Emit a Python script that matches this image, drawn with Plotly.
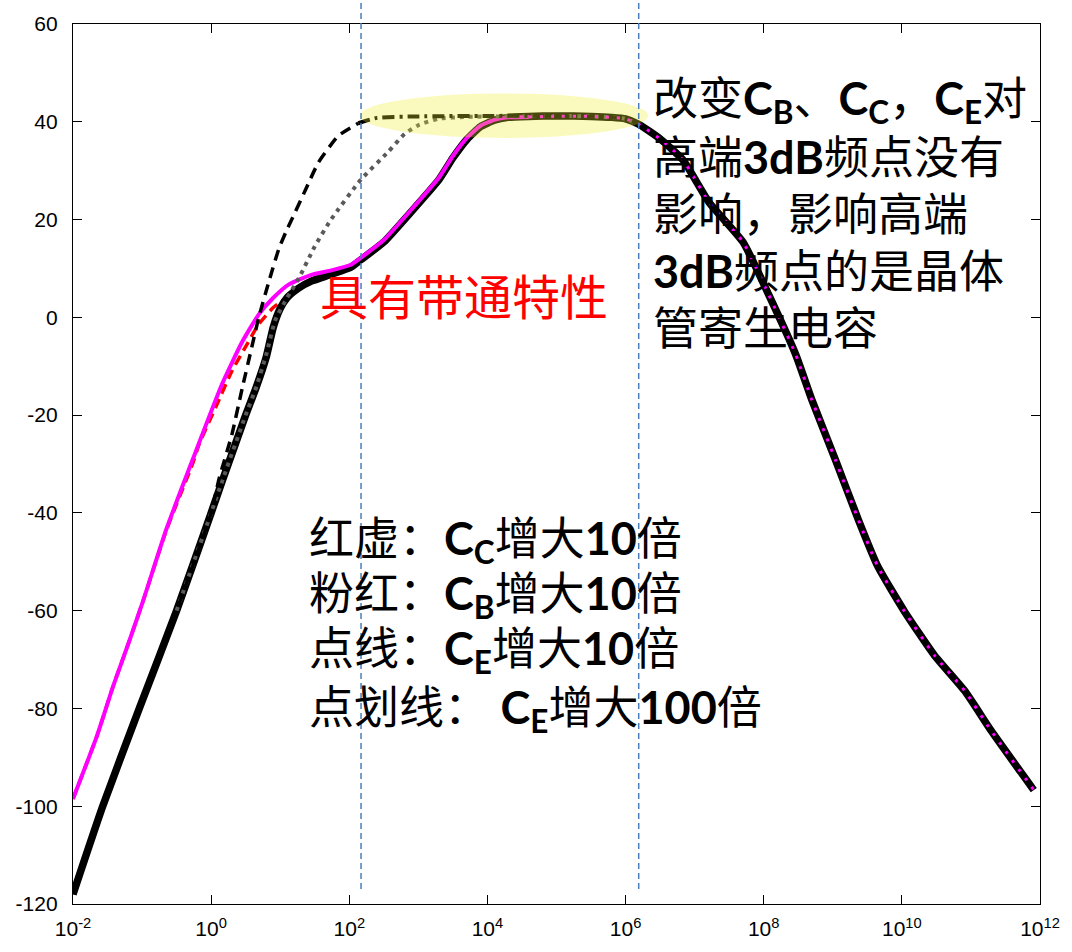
import numpy as np
import plotly.graph_objects as go

# ---- frequency responses (x given as log10 of frequency, y in dB) ----
# common high-frequency roll-off shared by every response
hf_exp = [6.0, 6.19, 6.5, 6.83, 7.21, 7.70, 8.07, 8.46, 8.70, 9.04, 9.37, 9.65,
          10.04, 10.47, 10.91, 11.29, 11.91]
hf_db = [40.6, 39.5, 36.5, 32.2, 23.5, 15.4, 4.7, -7.5, -17.0, -29.2, -41.4, -50.9,
         -60.2, -69.1, -76.4, -84.5, -96.7]

# original circuit (thick black)
orig_exp = [-2.0, -1.57, -1.04, -0.5, 0.0, 0.16, 0.5, 0.65, 0.8, 0.9, 1.0, 1.1, 1.27,
            1.45, 1.74, 2.03, 2.17, 2.5, 2.89, 3.3, 3.5, 3.71, 3.9, 4.1, 4.3, 4.6, 5.0, 5.5, 5.8]
orig_db = [-118.0, -100.0, -80.0, -60.0, -40.0, -33.5, -20.0, -14.4, -8.0, -2.0, 1.8, 4.0, 6.0,
           7.4, 8.8, 10.3, 11.8, 15.4, 21.5, 28.2, 32.6, 36.5, 39.0, 40.3, 40.9, 41.1, 41.2, 41.1, 40.9]

# C_B x10 (magenta)
cb_exp = [-2.0, -1.65, -1.42, -1.18, -0.99, -0.65, -0.27, 0.16, 0.45, 0.69, 0.9, 1.12,
          1.45, 1.74, 2.03, 2.17, 2.5, 2.89, 3.3, 3.5, 3.71, 3.9, 4.1, 4.3, 4.6, 5.0, 5.5, 5.8]
cb_db = [-98.5, -85.5, -75.5, -66.0, -58.2, -43.4, -29.2, -13.6, -5.0, 0.6, 4.0, 6.7,
         8.7, 9.6, 10.8, 12.2, 15.8, 21.9, 28.6, 33.0, 36.8, 39.2, 40.4, 40.9, 41.0, 41.1, 41.1, 40.9]

# C_C x10 (red dashed)
cc_exp = [-2.0, -1.65, -1.42, -1.18, -0.99, -0.65, -0.27, -0.17, 0.1, 0.3, 0.5, 0.69,
          0.9, 1.08, 1.41, 1.74, 2.03, 2.17, 2.5, 2.89, 3.3, 3.5, 3.71, 3.9, 4.1, 4.3, 4.6,
          5.0, 5.5, 5.8]
cc_db = [-98.5, -85.5, -75.5, -66.0, -58.2, -43.6, -30.0, -25.8, -17.3, -11.0, -6.0, -1.4,
         2.0, 3.9, 7.3, 9.0, 10.3, 11.8, 15.4, 21.5, 28.2, 32.6, 36.5, 39.0, 40.3, 40.9, 41.1,
         41.2, 41.1, 40.9]

# C_E x10 (grey dotted)
ce10_exp = [-0.5, 0.0, 0.16, 0.5, 0.65, 0.8, 0.93, 1.1, 1.27, 1.5, 1.74, 2.17, 2.56,
            2.8, 3.0, 3.28, 3.7, 4.2, 5.0, 5.5, 5.8, 6.0, 6.19]
ce10_db = [-60.0, -40.0, -33.5, -20.0, -14.4, -7.5, -0.5, 4.0, 8.0, 14.5, 20.1, 28.2, 33.8,
           37.5, 39.3, 40.6, 41.0, 41.1, 41.2, 41.1, 40.9, 40.6, 39.5]

# C_E x100 (black dash / dash-dot)
ce100_exp = [-2.0, -1.57, -1.04, -0.5, 0.0, 0.115, 0.3, 0.45, 0.59, 0.69, 0.85, 0.98,
             1.08, 1.17, 1.37, 1.55, 1.84, 2.13, 2.4, 3.0, 4.0, 5.0, 5.8]
ce100_db = [-118.0, -100.0, -80.0, -60.0, -40.0, -33.0, -24.0, -14.5, -6.0, 0.0, 8.0, 14.0,
            17.4, 20.1, 26.2, 31.6, 37.1, 39.7, 40.8, 41.1, 41.2, 41.2, 40.9]

# axis ticks
x_tick_exp = [-2, 0, 2, 4, 6, 8, 10, 12]
y_ticks = [-120, -100, -80, -60, -40, -20, 0, 20, 40, 60]

# 3 dB corner frequencies (log10) and highlighted pass-band
corner_exp = [2.17, 6.19]
band_exp = [2.15, 6.33]
band_db = [36.7, 45.8]


def freq(e):
    return 10.0 ** np.asarray(e, dtype=float)


orig_f, orig_y = freq(orig_exp + hf_exp), orig_db + hf_db
cb_f, cb_y = freq(cb_exp + hf_exp), cb_db + hf_db
cc_f, cc_y = freq(cc_exp + hf_exp), cc_db + hf_db
ce10_f, ce10_y = freq(ce10_exp), ce10_db
ce100_f, ce100_y = freq(ce100_exp + hf_exp), ce100_db + hf_db

cb_split = cb_exp.index(4.6)
ce100_split = ce100_exp.index(2.13)

SM = 0.5


def curve(x, y, color, width, dash="solid"):
    return go.Scatter(x=x, y=y, mode="lines", hoverinfo="skip",
                      line=dict(color=color, width=width, dash=dash,
                                shape="spline", smoothing=SM))


fig = go.Figure()
fig.add_trace(curve(cc_f, cc_y, "#ff0000", 3.5, "10px,6px"))
fig.add_trace(curve(orig_f, orig_y, "#000000", 7.5))
fig.add_trace(curve(cb_f[:cb_split + 1], cb_y[:cb_split + 1], "#ff00ff", 4))
fig.add_trace(curve(ce10_f, ce10_y, "#5a5a5a", 4, "4px,5px"))
fig.add_trace(curve(ce100_f[:ce100_split + 1], ce100_y[:ce100_split + 1], "#000000", 3.5, "11px,7px"))
fig.add_trace(curve(ce100_f[ce100_split:], ce100_y[ce100_split:], "#000000", 4, "12px,5px,3px,5px"))
fig.add_trace(curve(cb_f[cb_split:], cb_y[cb_split:], "#ff00ff", 3, "3px,8px"))

# highlighted mid-band region
fig.add_shape(type="circle", xref="x", yref="y",
              x0=10 ** band_exp[0], x1=10 ** band_exp[1], y0=band_db[0], y1=band_db[1],
              fillcolor="rgba(240,240,40,0.30)", line=dict(width=0), layer="above")

# 3 dB corner markers
for e in corner_exp:
    fig.add_shape(type="line", xref="x", yref="paper",
                  x0=10 ** e, x1=10 ** e, y0=0.017, y1=1.04,
                  line=dict(color="#4a7ebb", width=1.5, dash="6px,4px"), layer="above")

txt_font = "Lato, Noto Sans CJK SC"

fig.add_annotation(text="具有带通特性", xref="paper", yref="paper", x=0.404, y=0.693,
                   xanchor="center", yanchor="middle", showarrow=False,
                   font=dict(family="Noto Sans CJK SC", size=48, color="#ff0000"))

note_lines = [
    "改变<b>C<sub>B</sub></b>、<b>C<sub>C</sub></b>，<b>C<sub>E</sub></b>对",
    "高端<b>3dB</b>频点没有",
    "影响，影响高端",
    "<b>3dB</b>频点的是晶体",
    "管寄生电容",
]
note_y = [0.913, 0.849, 0.784, 0.719, 0.655]
for t, y in zip(note_lines, note_y):
    fig.add_annotation(text=t, xref="paper", yref="paper", x=0.598, y=y,
                       xanchor="left", yanchor="middle", showarrow=False,
                       font=dict(family=txt_font, size=45, color="#000000"))

legend_lines = [
    "红虚：<b>C<sub>C</sub></b>增大<b>10</b>倍",
    "粉红：<b>C<sub>B</sub></b>增大<b>10</b>倍",
    "点线：<b>C<sub>E</sub></b>增大<b>10</b>倍",
    "点划线： <b>C<sub>E</sub></b>增大<b>100</b>倍",
]
legend_y = [0.413, 0.350, 0.287, 0.220]
for t, y in zip(legend_lines, legend_y):
    fig.add_annotation(text=t, xref="paper", yref="paper", x=0.2415, y=y,
                       xanchor="left", yanchor="middle", showarrow=False,
                       font=dict(family=txt_font, size=45, color="#000000"))

axis_common = dict(showline=True, linecolor="#000000", linewidth=1.3, mirror="ticks",
                   ticks="inside", ticklen=9, tickwidth=1, tickcolor="#000000",
                   showgrid=False, zeroline=False,
                   tickfont=dict(family="Liberation Sans, Arial", size=21, color="#000000"))

fig.update_xaxes(type="log", range=[-2, 12],
                 tickvals=[10.0 ** e for e in x_tick_exp],
                 ticktext=[f"10<sup>{e}</sup>" for e in x_tick_exp],
                 ticklabelstandoff=6, **axis_common)
fig.update_yaxes(range=[-120, 60], tickvals=y_ticks,
                 ticktext=[str(v) for v in y_ticks],
                 ticklabelstandoff=10, **axis_common)

fig.update_layout(width=1072, height=952, showlegend=False,
                  margin=dict(l=73, r=26, t=20, b=44),
                  plot_bgcolor="#ffffff", paper_bgcolor="#ffffff")

fig.write_html("out.html")
